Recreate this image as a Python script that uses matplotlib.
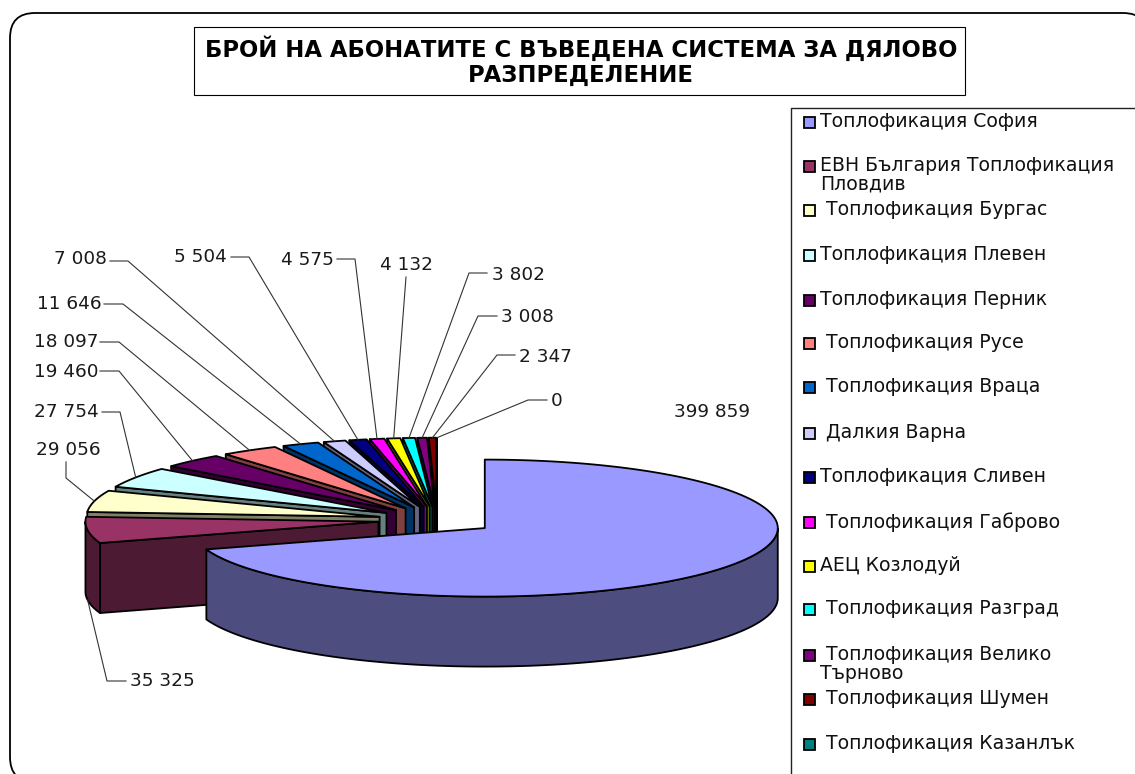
import numpy as np
import matplotlib
matplotlib.use("Agg")
import matplotlib.pyplot as plt
from matplotlib.colors import to_rgb
from matplotlib.patches import FancyBboxPatch, Polygon, Rectangle

plt.rcParams['font.family'] = ['DejaVu Sans']

title = "БРОЙ НА АБОНАТИТЕ С ВЪВЕДЕНА СИСТЕМА ЗА ДЯЛОВО\nРАЗПРЕДЕЛЕНИЕ"

names = ["Топлофикация София", "ЕВН България Топлофикация\nПловдив",
         " Топлофикация Бургас", "Топлофикация Плевен", "Топлофикация Перник",
         " Топлофикация Русе", " Топлофикация Враца", " Далкия Варна",
         "Топлофикация Сливен", " Топлофикация Габрово", "АЕЦ Козлодуй",
         " Топлофикация Разград", " Топлофикация Велико\nТърново",
         " Топлофикация Шумен", " Топлофикация Казанлък"]
values = [399859, 35325, 29056, 27754, 19460, 18097, 11646, 7008,
          5504, 4575, 4132, 3802, 3008, 2347, 0]
colors = ["#9999FF", "#993366", "#FFFFCC", "#CCFFFF", "#660066", "#FF8080",
          "#0066CC", "#CCCCFF", "#000080", "#FF00FF", "#FFFF00", "#00FFFF",
          "#800080", "#800000", "#008080"]

# Pie geometry in pixels
CX, CY = 437, 520
RX, RY = 293, 68.5
DEPTH = 70
EXPLODE = 59

# Label text anchor (x, y, ha) and leader elbow(s) for each slice, pixels
label_pos = [(712, 412, 'center'), (130, 681, 'left'), (101, 450, 'right'),
             (99, 412, 'right'), (98, 372, 'right'), (98, 342, 'right'),
             (102, 304, 'right'), (107, 259, 'right'), (227, 257, 'right'),
             (334, 260, 'right'), (406, 265, 'center'), (492, 275, 'left'),
             (501, 317, 'left'), (519, 357, 'left'), (551, 401, 'left')]
leader_elbows = [None,
                 [(126, 681), (107, 681)],
                 [(66, 462), (66, 478)],
                 [(102, 412), (120, 412)],
                 [(100, 371), (119, 371)],
                 [(100, 342), (119, 342)],
                 [(104, 304), (123, 304)],
                 [(110, 261), (128, 261)],
                 [(231, 257), (249, 257)],
                 [(337, 259), (355, 259)],
                 [(406, 277)],
                 [(487, 273), (469, 273)],
                 [(497, 316), (478, 316)],
                 [(515, 355), (497, 355)],
                 [(547, 400), (528, 400)]]

legend_y = [122, 166, 210, 255, 300, 343, 387, 433, 477, 522, 566, 609, 655, 699, 744]

fig = plt.figure(figsize=(11.35, 7.74), dpi=100)
ax = fig.add_axes([0, 0, 1, 1])
ax.set_xlim(0, 1135)
ax.set_ylim(774, 0)
ax.axis('off')

ax.add_patch(FancyBboxPatch((35, 38), 1088, 719, boxstyle="round,pad=25,rounding_size=25",
                            fc='white', ec='black', lw=1.3))

ax.add_patch(Rectangle((194, 27), 771, 68, fc='white', ec='black', lw=0.8))
ax.text(581, 62, title, ha='center', va='center', fontsize=16.4, fontweight='bold',
        linespacing=1.12, color='black')

# Slice angles, clockwise from 12 o'clock
total = sum(values)
edges = np.deg2rad(np.concatenate([[0], np.cumsum(values) * 360.0 / total]))


def apex(i):
    mid = (edges[i] + edges[i + 1]) / 2
    return CX + EXPLODE * np.sin(mid), CY - EXPLODE * RY / RX * np.cos(mid)


def rim(i, theta):
    ax0, ay0 = apex(i)
    return ax0 + RX * np.sin(theta), ay0 - RY * np.cos(theta)


def draw_slice(i):
    start, end = edges[i], edges[i + 1]
    dark = tuple(c * 0.5 for c in to_rgb(colors[i]))
    ax0, ay0 = apex(i)
    style = dict(ec='black', lw=1.3, joinstyle='round')
    # radial wall on the start side faces the viewer for the back-left slices
    if i > 0:
        sx, sy = rim(i, start)
        ax.add_patch(Polygon([(ax0, ay0), (sx, sy), (sx, sy + DEPTH), (ax0, ay0 + DEPTH)],
                             fc=dark, **style))
    # outer wall only on the front half of the ellipse
    lo, hi = max(start, np.pi / 2), min(end, 3 * np.pi / 2)
    if hi > lo:
        t = np.linspace(lo, hi, 120)
        x, y = rim(i, t)
        ax.add_patch(Polygon(np.r_[np.c_[x, y], np.c_[x, y + DEPTH][::-1]], fc=dark, **style))
    t = np.linspace(start, end, 200)
    x, y = rim(i, t)
    ax.add_patch(Polygon(np.r_[[(ax0, ay0)], np.c_[x, y]], fc=colors[i], **style))


# back slices first, the big one goes on top
for i in list(range(len(values) - 1, 0, -1)) + [0]:
    draw_slice(i)

for i, val in enumerate(values):
    lx, ly, ha = label_pos[i]
    ax.text(lx, ly, f"{val:,}".replace(",", " "), ha=ha, va='center', fontsize=13.3, color='#1a1a1a')
    if leader_elbows[i] is None:
        continue
    mid = (edges[i] + edges[i + 1]) / 2
    px, py = rim(i, mid)
    if np.cos(mid) < 0:
        py += DEPTH
    pts = leader_elbows[i] + [(px, py)]
    ax.plot([p[0] for p in pts], [p[1] for p in pts], color='#333333', lw=0.8, zorder=1)

# Legend
ax.plot([791, 791, 1135], [774, 108, 108], color='#222222', lw=1.0)
for name, color, y in zip(names, colors, legend_y):
    ax.add_patch(Rectangle((804, y - 5.5), 11, 11, fc=color, ec='black', lw=1.3))
    ax.text(820, y - 10, name, ha='left', va='top', fontsize=13.6, color='#111111', linespacing=1.0)

fig.savefig("out.png", dpi=100)
